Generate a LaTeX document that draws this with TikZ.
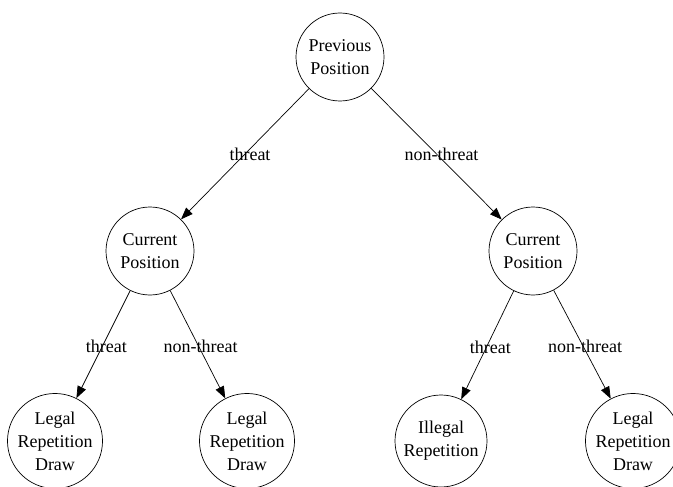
\documentclass[tikz,border=0pt]{standalone}
\usepackage{fontspec}
\setmainfont{Liberation Serif}
\usetikzlibrary{arrows.meta}
\begin{document}
\begin{tikzpicture}[x=1pt,y=-1pt,line width=0.7pt,
  state/.style={draw,circle,minimum size=#1,inner sep=0pt,align=center,font=\fontsize{18}{23}\selectfont},
  conn/.style={draw,-{Triangle[length=12pt,width=9pt]}},
  lbl/.style={font=\fontsize{18}{23}\selectfont,inner sep=0pt}]
\useasboundingbox (0,0) rectangle (673,487);
\node[state=88pt] (p) at (340,57) {Previous\\Position};
\node[state=88pt] (cl) at (150,251) {Current\\Position};
\node[state=88pt] (cr) at (533,251) {Current\\Position};
\node[state=92pt] (a) at (55,441) {Legal\\Repetition\\Draw};
\node[state=92pt] (b) at (247,441) {Legal\\Repetition\\Draw};
\node[state=92pt] (c) at (441,441) {Illegal\\Repetition};
\node[state=92pt] (d) at (633,441) {Legal\\Repetition\\Draw};
\draw[conn] (p) -- node[lbl,midway,xshift=5pt] {threat} (cl);
\draw[conn] (p) -- node[lbl,midway,xshift=5pt] {non-threat} (cr);
\draw[conn] (cl) -- node[lbl,midway,xshift=3pt,yshift=-2pt] {threat} (a);
\draw[conn] (cl) -- node[lbl,midway,xshift=3pt,yshift=-2pt] {non-threat} (b);
\draw[conn] (cr) -- node[lbl,midway,xshift=3pt,yshift=-2pt] {threat} (c);
\draw[conn] (cr) -- node[lbl,midway,xshift=3pt,yshift=-2pt] {non-threat} (d);
\end{tikzpicture}
\end{document}
